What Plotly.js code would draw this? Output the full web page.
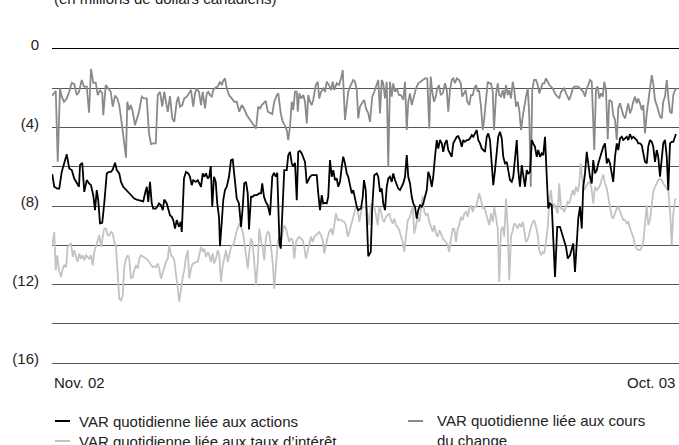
<!DOCTYPE html>
<html>
<head>
<meta charset="utf-8">
<script src="https://cdn.plot.ly/plotly-3.0.1.min.js"></script>
<style>html,body{margin:0;padding:0;background:#fff;}#chart{width:679px;height:445px;}</style>
</head>
<body>
<div id="chart"></div>
<script>
// Title / labels
const chartTitle = "(en millions de dollars canadiens)";
const seriesNames = ["VAR quotidienne liée aux actions", "VAR quotidienne liée aux taux d’intérêt", "VAR quotidienne liée aux cours<br>du change"];
const xTickLabels = ["Nov. 02", "Oct. 03"];
const xTickDays = [0, 250];
const yTickVals = [0, -2, -4, -6, -8, -10, -12, -14, -16];
const yTickText = ["0", "", "(4)", "", "(8)", "", "(12)", "", "(16)"];

// VAR liée aux cours du change (day, value)
const fxDays = [
0.1,1.5,2.3,3.2,3.9,4.8,5.9,6.9,7.9,8.9,
9.9,10.8,11.9,12.8,13.9,14.8,15.6,16.5,17.5,18.3,
19.2,20.1,20.5,21.5,22.5,23.5,24.3,25.2,26.1,26.9,
27.9,28.8,29.6,30.1,30.8,31.5,32.3,33.2,33.9,34.8,
35.9,36.8,37.9,38.8,39.6,40.5,41.5,42.3,43.2,44.1,
44.9,45.9,46.3,47.2,48.1,48.9,49.9,50.5,51.2,52.1,
52.9,53.9,54.8,55.6,56.5,57.2,57.9,58.8,59.6,60.3,
61.2,61.9,62.5,63.2,63.9,64.5,65.5,66.3,67.2,67.9,
68.5,69.2,69.9,70.8,71.9,72.9,73.9,74.9,75.9,76.8,
77.9,78.8,79.6,80.5,81.6,82.5,83.2,83.9,84.5,85.5,
86.3,87.2,88.1,88.9,89.9,90.5,91.5,92.3,92.9,93.9,
94.5,95.2,95.9,96.5,97.2,97.9,98.3,98.9,99.6,100.5,
101.2,101.9,102.5,103.2,103.9,104.5,105.5,106.3,106.9,107.6,
108.5,109.2,109.9,110.8,111.6,112.3,112.9,113.9,114.8,115.6,
116.3,117.2,117.9,118.5,119.5,120.5,121.2,121.9,122.5,123.2,
124.3,124.9,125.6,126.5,127.2,128.1,128.9,129.9,130.5,131.2,
131.9,132.5,133.2,133.9,134.5,135.2,135.9,136.5,137.2,137.9,
138.8,139.6,140.5,141.2,141.9,142.5,143.2,143.9,144.8,145.6,
146.5,147.5,148.3,149.2,150.1,150.9,151.5,152.1,152.8,153.5,
154.1,154.8,155.5,156.3,157.2,157.9,158.5,159.2,159.9,160.5,
161.2,161.9,162.8,163.5,164.1,164.8,165.5,166.1,166.9,167.6,
168.3,168.9,169.6,170.3,170.8,171.6,172.3,172.9,173.6,174.3,
174.9,175.6,176.3,176.8,177.6,178.3,178.9,179.6,180.3,180.9,
181.6,182.3,182.9,183.6,184.3,184.9,185.6,186.3,186.9,187.6,
188.3,188.9,189.6,190.3,190.9,191.5,192.1,192.8,193.6,194.3,
194.9,195.6,196.3,196.9,197.6,198.3,198.9,199.6,200.3,200.9,
201.6,202.3,202.9,203.6,204.3,204.9,205.6,206.3,206.9,207.6,
208.3,208.9,209.9,210.5,211.2,211.9,212.5,213.2,213.9,214.5,
215.2,215.9,216.3,216.9,217.6,218.3,218.9,219.6,220.3,220.9,
221.6,222.3,222.9,223.9,224.5,225.2,225.9,226.5,227.2,227.9,
228.5,229.2,229.9,230.5,231.2,231.9,232.5,233.2,233.9,234.5,
235.2,235.9,236.5,237.2,237.9,238.5,239.2,239.9,240.5,241.2,
241.9,242.5,243.2,243.9,244.5,245.2,245.9,246.5,247.2,247.9,
248.5,249.2,249.9];
const fxVals = [
-2.38,-2.14,-5.75,-2.01,-2.43,-2.69,-2.52,-2.18,-1.72,-1.79,
-2.35,-2.18,-1.58,-1.92,-1.92,-3.25,-1.02,-1.72,-1.72,-2.35,
-2.09,-2.26,-3.37,-1.84,-2.01,-2.18,-2.94,-2.38,-2.52,-2.86,
-3.79,-4.64,-5.54,-2.69,-3.11,-2.86,-3.20,-3.88,-3.54,-3.20,
-2.43,-2.52,-2.52,-4.30,-4.85,-4.81,-4.81,-2.35,-2.18,-2.94,
-2.18,-2.94,-3.20,-2.40,-3.54,-3.71,-2.69,-2.43,-2.94,-2.86,
-2.52,-2.43,-2.26,-2.09,-2.94,-2.26,-2.01,-2.18,-2.86,-2.18,
-3.03,-2.26,-2.18,-2.35,-2.43,-2.09,-1.96,-1.92,-1.67,-1.84,
-1.62,-1.50,-2.01,-2.35,-2.52,-2.69,-2.69,-3.20,-2.86,-3.03,
-3.37,-3.54,-3.71,-3.88,-4.05,-2.94,-3.03,-2.86,-2.77,-2.64,
-3.20,-3.28,-3.32,-2.69,-2.35,-2.26,-3.28,-3.71,-3.83,-4.13,
-4.64,-3.96,-2.69,-3.11,-2.18,-2.18,-3.20,-2.26,-2.52,-2.35,
-2.69,-3.79,-2.35,-2.69,-2.86,-2.60,-1.84,-1.67,-2.52,-2.18,
-2.01,-2.18,-1.67,-1.84,-2.09,-1.67,-2.09,-1.75,-1.84,-1.50,
-1.07,-3.62,-2.77,-2.18,-1.84,-1.58,-1.67,-2.09,-3.54,-2.94,
-2.69,-2.60,-3.03,-3.28,-3.71,-2.43,-2.18,-1.84,-1.58,-3.28,
-1.58,-1.75,-2.52,-1.67,-6.00,-1.67,-2.43,-1.75,-2.18,-2.01,
-2.35,-2.35,-2.60,-1.67,-4.13,-2.69,-2.26,-2.86,-2.35,-2.01,
-1.75,-1.67,-1.58,-1.50,-1.50,-4.05,-1.41,-2.18,-2.69,-2.43,
-2.01,-1.84,-2.35,-2.26,-1.75,-2.09,-3.20,-2.09,-1.58,-1.50,
-1.75,-1.50,-1.58,-1.75,-2.43,-2.26,-2.09,-2.69,-2.86,-2.35,
-2.35,-2.01,-1.84,-2.18,-2.09,-2.94,-4.13,-3.54,-2.77,-1.67,
-1.75,-1.75,-2.18,-4.13,-2.35,-1.75,-2.35,-2.43,-2.09,-2.52,
-1.84,-2.35,-2.09,-2.52,-1.67,-2.09,-2.94,-2.69,-3.11,-4.13,
-3.45,-2.94,-2.43,-2.01,-3.37,-7.02,-2.09,-1.58,-1.58,-1.84,
-2.26,-2.01,-1.75,-1.75,-1.50,-1.67,-1.84,-1.92,-2.01,-2.18,
-2.35,-2.43,-2.52,-2.18,-2.09,-2.01,-2.26,-2.43,-2.60,-2.35,
-2.01,-1.92,-1.92,-1.92,-2.01,-2.09,-2.18,-2.43,-2.01,-1.84,
-1.58,-1.67,-3.11,-5.15,-2.01,-1.92,-2.52,-2.26,-2.43,-1.67,
-2.09,-4.60,-2.60,-2.69,-3.37,-3.62,-4.64,-3.03,-2.77,-3.11,
-3.37,-3.54,-3.11,-2.77,-3.28,-3.03,-2.69,-2.43,-2.77,-2.52,
-2.77,-3.11,-2.86,-4.30,-3.28,-2.69,-1.92,-1.33,-1.75,-2.60,
-2.86,-3.20,-3.45,-3.54,-2.69,-2.43,-1.58,-2.43,-3.20,-3.28,
-2.35,-2.09,-2.01];

// VAR liée aux actions (day, value)
const eqDays = [
0.1,0.9,2.1,2.9,3.9,4.9,5.9,6.9,7.9,8.9,
9.9,10.8,11.2,12.1,12.9,13.9,14.8,15.6,16.5,17.2,
17.9,18.5,19.2,20.1,20.9,21.9,22.8,23.6,24.3,25.2,
25.9,26.9,27.6,28.5,29.5,30.3,31.2,32.1,32.9,33.9,
34.8,35.6,36.5,37.2,37.9,38.5,39.2,39.9,40.5,41.5,
42.1,42.8,43.6,44.3,44.9,45.9,46.5,47.2,47.9,48.5,
49.2,49.9,50.8,51.5,51.9,52.8,53.6,54.5,55.2,55.9,
56.5,57.5,58.3,58.9,59.6,60.3,60.9,61.6,62.3,62.9,
63.5,64.1,64.8,65.5,66.1,66.8,67.2,68.0,68.5,69.2,
69.9,70.8,71.6,72.3,72.9,73.9,74.8,75.6,76.3,76.9,
77.6,78.3,78.8,79.6,80.3,80.9,81.9,82.8,83.6,84.1,
84.8,85.5,86.3,87.2,88.1,88.8,89.5,90.1,91.0,91.5,
92.9,93.9,94.5,95.2,95.9,96.5,97.2,97.9,98.5,99.2,
99.9,100.5,101.2,101.9,102.5,103.2,103.9,104.5,105.2,105.9,
106.5,107.2,107.9,108.5,109.2,109.9,110.5,111.2,111.9,112.5,
113.2,113.9,114.5,115.2,115.9,116.5,117.2,117.9,118.5,119.2,
119.9,120.5,121.2,121.9,122.5,
123.6,124.3,124.8,125.5,126.0,126.5,127.5,128.1,128.9,129.9,
130.5,131.2,131.9,132.5,133.2,133.9,134.5,135.2,135.9,136.5,
137.2,137.9,138.5,139.2,139.9,140.5,141.2,141.9,142.5,143.2,
143.9,144.5,145.2,145.9,146.5,147.2,147.9,148.5,149.2,149.9,
150.5,151.2,151.9,152.5,153.2,153.9,154.5,155.2,155.9,156.5,
157.2,157.9,158.5,159.2,159.9,160.5,161.2,161.9,162.5,163.2,
163.9,164.5,165.2,165.9,166.5,167.2,167.9,168.5,169.2,169.9,
170.5,171.2,171.9,172.5,173.2,173.9,174.5,175.2,175.9,176.5,
177.2,177.9,178.5,179.2,179.9,180.5,181.2,181.9,182.5,183.2,
183.9,184.5,185.2,185.9,186.5,187.2,187.9,188.5,189.2,189.9,
190.5,191.2,191.9,192.5,193.2,193.9,194.5,195.2,195.9,196.5,
197.2,197.9,198.5,199.2,199.9,201.2,202.1,203.2,203.9,204.8,
205.6,206.3,207.2,207.9,208.5,209.2,209.9,210.5,211.2,211.9,
212.5,213.2,213.9,214.5,215.2,215.9,216.5,217.2,217.9,218.5,
219.2,219.9,220.5,221.2,221.9,222.5,223.2,223.9,224.5,225.2,
225.9,226.5,227.2,227.9,228.5,229.2,229.9,230.5,231.2,231.9,
232.5,233.2,233.9,234.5,235.2,235.9,236.5,237.2,237.9,238.5,
239.2,239.9,240.5,241.2,241.9,242.5,243.2,243.9,244.5,245.2,
245.9,246.5,247.2,247.9,248.5,249.2,249.6];
const eqVals = [
-6.38,-7.02,-7.11,-7.11,-6.26,-5.75,-5.37,-6.09,-6.17,-6.60,
-6.85,-7.02,-5.92,-5.80,-7.28,-6.68,-6.85,-6.94,-7.45,-8.21,
-7.19,-7.70,-8.89,-8.86,-7.87,-6.34,-6.26,-6.26,-6.14,-5.80,
-6.17,-6.34,-6.77,-7.02,-7.16,-7.28,-7.41,-7.53,-7.62,-7.67,
-7.70,-7.74,-7.76,-7.36,-7.02,-7.79,-6.77,-7.87,-8.13,-8.13,
-8.04,-7.87,-7.96,-8.21,-7.67,-7.87,-8.21,-8.47,-8.55,-8.72,
-9.15,-8.72,-9.06,-8.81,-9.32,-6.60,-6.26,-6.34,-6.51,-6.94,
-6.68,-6.77,-6.68,-6.85,-7.02,-6.34,-6.51,-6.34,-6.60,-6.51,
-5.97,-8.04,-6.51,-6.77,-7.87,-8.55,-10.05,-8.64,-7.70,-7.19,
-7.02,-6.51,-5.66,-5.63,-6.51,-7.62,-7.87,-9.06,-8.04,-6.85,
-6.77,-7.36,-9.20,-7.53,-7.53,-7.45,-7.45,-7.36,-7.36,-6.85,
-7.53,-7.79,-7.96,-8.47,-6.51,-6.31,-6.51,-6.31,-9.91,-10.17,
-6.17,-6.17,-5.41,-5.24,-5.83,-6.00,-5.80,-7.70,-5.24,-5.19,
-5.32,-5.49,-5.75,-6.85,-6.68,-6.51,-6.43,-6.43,-6.43,-6.43,
-7.36,-8.21,-7.45,-7.87,-7.84,-7.87,-7.53,-5.66,-6.51,-6.17,
-6.68,-6.60,-7.02,-6.77,-6.00,-5.49,-5.83,-6.34,-6.51,-7.02,
-7.36,-7.19,-7.70,-8.04,-8.21,
-8.13,-7.53,-6.68,-7.19,-9.57,-10.56,-10.34,-8.04,-6.43,-6.34,
-6.51,-7.28,-7.11,-7.87,-8.21,-7.02,-6.60,-6.51,-6.77,-6.34,
-6.68,-6.94,-7.11,-7.19,-7.02,-6.85,-6.51,-5.41,-6.51,-6.85,
-7.53,-7.87,-8.04,-8.64,-8.21,-7.96,-8.04,-7.87,-7.53,-7.19,
-6.26,-6.51,-7.02,-6.51,-5.49,-4.64,-5.07,-4.64,-4.81,-5.24,
-4.81,-4.64,-5.15,-5.32,-5.49,-4.81,-4.64,-4.47,-4.44,-4.64,
-4.98,-4.64,-4.73,-4.64,-4.64,-4.56,-4.39,-4.47,-4.30,-4.13,
-4.64,-4.81,-5.07,-5.15,-5.24,-4.47,-4.30,-4.64,-5.83,-6.94,
-6.17,-5.15,-4.47,-4.22,-4.56,-5.49,-5.83,-5.75,-6.17,-6.68,
-6.77,-6.51,-5.58,-4.64,-6.17,-7.02,-5.92,-6.43,-7.02,-6.17,
-6.34,-6.26,-4.64,-4.81,-4.98,-5.49,-5.15,-5.49,-5.32,-5.41,
-4.47,-6.51,-8.13,-7.87,-7.96,-11.62,-9.06,-9.06,-9.32,-9.74,
-10.08,-10.68,-10.51,-10.25,-9.91,-11.36,-10.08,-8.64,-8.04,-9.15,
-7.02,-6.34,-5.24,-5.83,-6.51,-6.85,-5.66,-6.34,-6.17,-5.83,
-5.49,-5.15,-4.98,-4.81,-5.83,-5.58,-5.83,-6.34,-6.77,-5.49,
-4.81,-5.15,-4.56,-4.47,-4.64,-4.56,-4.47,-4.64,-4.34,-4.56,
-4.47,-4.56,-4.64,-4.81,-4.81,-4.90,-5.32,-5.75,-5.83,-4.98,
-4.64,-4.73,-4.98,-5.75,-5.15,-5.49,-6.51,-5.32,-4.81,-4.64,
-5.49,-7.19,-4.81,-4.73,-4.73,-4.47,-4.34];

// VAR liée aux taux d'intérêt (day, value)
const irDays = [
0.1,0.9,1.5,2.1,2.8,3.6,4.3,4.9,5.6,6.3,
6.9,7.6,8.3,8.9,9.6,10.3,10.9,11.6,12.3,12.9,
13.6,14.3,14.9,15.6,16.3,16.9,17.6,18.3,18.9,19.6,
20.3,20.9,21.6,22.3,22.9,23.6,24.3,24.9,25.6,26.3,
26.9,27.6,28.3,28.9,29.6,30.3,30.9,31.6,32.3,32.9,
33.6,34.3,34.9,35.6,36.3,36.9,37.6,38.3,38.9,39.6,
40.3,40.9,41.6,42.3,42.9,43.6,44.3,44.9,45.6,46.3,
46.9,47.6,48.3,48.9,49.6,50.3,50.9,51.6,52.3,52.9,
53.6,54.3,54.9,55.6,56.3,56.9,57.6,58.3,58.9,59.6,
60.3,60.9,61.6,62.3,62.9,63.6,64.3,64.9,65.6,66.3,
66.9,67.6,68.3,68.9,69.6,70.3,70.9,71.6,72.3,72.9,
73.6,74.3,74.9,75.6,76.3,76.9,77.6,78.3,78.9,79.6,
80.3,80.9,81.6,82.3,82.9,83.6,84.3,84.9,85.6,86.3,
86.9,87.6,88.3,88.9,89.6,90.3,90.9,91.6,92.3,92.9,
93.6,94.3,94.9,95.6,96.3,96.9,97.6,98.3,98.9,99.6,
100.3,100.9,101.6,102.3,102.9,103.6,104.3,104.9,105.6,106.3,
106.9,107.6,108.3,108.9,109.6,110.3,110.9,111.6,112.3,112.9,
113.6,114.3,114.9,115.6,116.3,116.9,117.6,118.3,118.9,119.6,
120.3,120.9,121.6,122.3,122.9,
123.9,124.5,125.2,125.9,126.9,127.6,128.3,128.9,129.6,130.3,
130.9,131.6,132.3,132.9,133.6,134.3,134.9,135.6,136.3,136.9,
137.6,138.3,138.9,139.6,140.3,140.9,141.6,142.3,142.9,143.6,
144.3,144.9,145.6,146.3,146.9,147.6,148.3,148.9,149.6,150.3,
150.9,151.6,152.3,152.9,153.6,154.3,154.9,155.6,156.3,156.9,
157.6,158.3,158.9,159.6,160.3,160.9,161.6,162.3,162.9,163.6,
164.3,164.9,165.6,166.3,166.9,167.6,168.3,168.9,169.6,170.3,
170.9,171.6,172.3,172.9,173.6,174.3,174.9,175.6,176.3,176.9,
177.6,178.3,178.9,179.6,180.3,180.9,181.6,182.3,182.9,183.6,
184.3,184.9,185.6,186.3,186.9,187.6,188.3,188.9,189.6,190.3,
190.9,191.6,192.3,192.9,193.6,194.3,194.9,195.6,196.3,196.9,
197.6,198.3,198.9,199.6,200.3,200.9,201.6,202.3,202.9,203.6,
204.3,204.9,205.6,206.3,206.9,207.6,208.3,208.9,209.6,210.3,
210.9,211.5,212.3,212.9,213.6,214.3,215.2,215.9,216.5,217.2,
217.9,218.5,219.2,219.9,220.5,221.2,221.9,222.5,223.2,223.9,
224.5,225.2,225.9,226.5,227.2,227.9,228.5,229.2,229.9,230.5,
231.2,231.9,232.5,233.2,233.9,234.5,235.2,235.9,236.5,237.2,
237.9,238.5,239.2,239.9,240.5,241.2,241.9,242.5,243.2,243.9,
244.5,245.2,245.9,246.5,247.2,247.9,248.5,249.2,249.6];
const irVals = [
-10.00,-9.32,-11.28,-10.51,-11.28,-11.62,-11.19,-11.02,-11.11,-10.08,
-10.00,-9.91,-10.59,-10.25,-10.59,-10.85,-10.42,-10.68,-10.51,-10.76,
-10.51,-10.59,-10.68,-10.51,-11.02,-10.34,-10.08,-9.83,-9.49,-10.08,
-9.57,-9.15,-9.15,-9.49,-9.49,-9.32,-9.40,-9.83,-10.08,-11.62,
-12.72,-12.81,-12.55,-11.11,-10.68,-10.51,-10.68,-11.70,-11.62,-11.28,
-11.02,-11.19,-10.68,-10.51,-10.56,-10.63,-10.68,-10.76,-10.85,-11.02,
-11.11,-11.07,-11.11,-10.93,-11.19,-11.70,-11.36,-11.11,-10.85,-10.68,
-10.00,-10.51,-10.59,-10.76,-11.36,-12.21,-12.89,-12.21,-11.62,-11.28,
-10.59,-10.25,-11.70,-11.19,-10.93,-10.93,-10.85,-10.85,-10.42,-10.08,
-10.34,-10.17,-10.59,-10.34,-10.51,-10.85,-10.42,-10.93,-10.68,-10.25,
-10.51,-11.87,-11.02,-10.59,-10.25,-10.85,-10.42,-10.08,-10.00,-9.83,
-9.40,-9.15,-8.89,-9.06,-9.32,-9.83,-10.51,-11.19,-10.34,-9.66,
-9.91,-11.02,-12.04,-10.93,-9.15,-9.74,-10.17,-10.76,-9.57,-9.32,
-9.40,-10.08,-10.93,-12.21,-10.76,-9.83,-9.57,-9.83,-9.32,-8.98,
-9.15,-9.49,-9.83,-9.66,-9.74,-10.68,-9.83,-9.66,-9.57,-9.66,
-9.74,-10.08,-10.68,-10.25,-9.91,-9.57,-9.83,-9.57,-9.49,-9.40,
-9.32,-9.49,-9.74,-10.42,-9.91,-9.57,-9.32,-9.15,-9.49,-9.06,
-8.38,-8.72,-8.69,-8.72,-8.76,-8.81,-8.98,-9.57,-9.32,-8.98,
-8.55,-8.38,-8.04,-8.21,-8.81,
-8.13,-8.04,-8.04,-8.13,-8.98,-7.96,-7.87,-8.04,-8.47,-8.98,
-8.04,-8.30,-8.72,-8.81,-8.55,-8.47,-8.38,-8.72,-8.89,-8.64,
-8.98,-9.06,-9.23,-9.57,-9.83,-10.34,-9.57,-8.72,-8.64,-8.38,
-8.04,-9.40,-8.89,-8.55,-8.81,-8.21,-7.50,-8.30,-8.47,-8.38,
-8.81,-9.06,-9.32,-8.98,-9.40,-9.57,-9.23,-9.40,-9.66,-9.74,
-9.83,-10.00,-10.34,-9.66,-9.15,-9.15,-9.83,-9.15,-8.98,-8.55,
-8.72,-8.38,-8.30,-8.55,-8.13,-7.96,-8.30,-8.04,-8.04,-7.70,
-7.36,-7.70,-8.13,-8.04,-8.38,-8.72,-8.98,-8.38,-8.81,-8.04,
-8.72,-9.15,-11.87,-9.23,-9.06,-9.57,-7.62,-9.15,-11.79,-9.57,
-9.23,-8.89,-8.98,-9.15,-8.89,-9.06,-8.81,-9.40,-9.83,-9.74,
-9.40,-9.06,-8.81,-8.72,-9.06,-9.49,-10.25,-10.51,-10.34,-10.42,
-9.83,-9.06,-7.79,-7.19,-8.13,-7.87,-8.13,-8.38,-6.85,-8.13,
-8.13,-8.30,-8.04,-7.79,-7.87,-7.45,-7.19,-7.45,-7.02,-7.28,
-6.85,-5.83,-6.85,-7.19,-7.02,-6.85,-6.77,-7.19,-7.87,-7.02,
-7.19,-7.11,-6.94,-6.68,-6.40,-6.85,-7.11,-7.53,-8.04,-8.55,
-8.64,-8.38,-8.13,-8.04,-8.30,-8.47,-8.72,-8.72,-8.89,-8.81,
-9.15,-9.40,-9.57,-10.00,-10.17,-10.25,-10.25,-10.08,-9.83,-8.89,
-7.96,-8.98,-8.72,-7.96,-7.28,-7.02,-6.85,-6.68,-6.60,-6.68,
-6.85,-7.02,-7.11,-7.19,-8.21,-10.00,-8.38,-7.70,-7.62];

const colors = {eq: "#000000", ir: "#c3c3c3", fx: "#8a8a8a"};
const fontFam = '"Liberation Sans", Arial, sans-serif';

const traces = [
  {x: irDays, y: irVals, type: "scatter", mode: "lines", line: {color: colors.ir, width: 1.8}, name: seriesNames[1], hoverinfo: "skip"},
  {x: fxDays, y: fxVals, type: "scatter", mode: "lines", line: {color: colors.fx, width: 1.8}, name: seriesNames[2], hoverinfo: "skip"},
  {x: eqDays, y: eqVals, type: "scatter", mode: "lines", line: {color: colors.eq, width: 1.8}, name: seriesNames[0], hoverinfo: "skip"}
];

// page layout helpers (plot area 52..679 x, 47..365 y)
const PL = 52, PW = 627, PT = 47, PH = 318;
const px = v => (v - PL) / PW;
const py = v => (PT + PH - v) / PH;

const legendItems = [
  {name: seriesNames[0], color: colors.eq, x0: 55, x1: 70, tx: 77, ly: 421, ty: 421},
  {name: seriesNames[1], color: colors.ir, x0: 55, x1: 70, tx: 77, ly: 441, ty: 441},
  {name: seriesNames[2], color: colors.fx, x0: 408, x1: 423, tx: 435, ly: 421, ty: 430.5}
];

const annotations = [
  {text: chartTitle, xref: "paper", yref: "paper", x: px(52), y: py(-1.5), xanchor: "left", yanchor: "middle", showarrow: false, font: {size: 15, color: "#222", family: fontFam}},
  {text: xTickLabels[0], xref: "x", yref: "paper", x: xTickDays[0], y: py(382), xanchor: "left", yanchor: "middle", showarrow: false, font: {size: 15, color: "#222", family: fontFam}},
  {text: xTickLabels[1], xref: "x", yref: "paper", x: xTickDays[1], y: py(382), xanchor: "right", yanchor: "middle", showarrow: false, font: {size: 15, color: "#222", family: fontFam}}
];
const shapes = [];
legendItems.forEach(it => {
  annotations.push({text: it.name, xref: "paper", yref: "paper", x: px(it.tx), y: py(it.ty), xanchor: "left", yanchor: "middle", align: "left", showarrow: false, font: {size: 15, color: "#222", family: fontFam}});
  shapes.push({type: "line", xref: "paper", yref: "paper", x0: px(it.x0), x1: px(it.x1), y0: py(it.ly), y1: py(it.ly), line: {color: it.color, width: 2}});
});

const layout = {
  width: 679, height: 445,
  margin: {l: PL, r: 0, t: PT, b: 445 - PT - PH, pad: 0},
  paper_bgcolor: "#ffffff", plot_bgcolor: "#ffffff",
  showlegend: false,
  font: {family: fontFam, size: 15, color: "#222"},
  xaxis: {range: [0, 250.8], showgrid: false, zeroline: false, showticklabels: false, showline: false, ticks: "", fixedrange: true},
  yaxis: {range: [-16.1, 0.1], tickmode: "array", tickvals: yTickVals, ticktext: yTickText,
          showgrid: true, gridcolor: "#555555", gridwidth: 1, zeroline: true, zerolinecolor: "#000000", zerolinewidth: 1,
          ticks: "", showline: false, ticklabelstandoff: 12, ticklabelshift: -4, tickfont: {size: 15, color: "#222", family: fontFam}, fixedrange: true},
  annotations: annotations,
  shapes: shapes
};

Plotly.newPlot("chart", traces, layout, {displayModeBar: false, staticPlot: true});
</script>
</body>
</html>
